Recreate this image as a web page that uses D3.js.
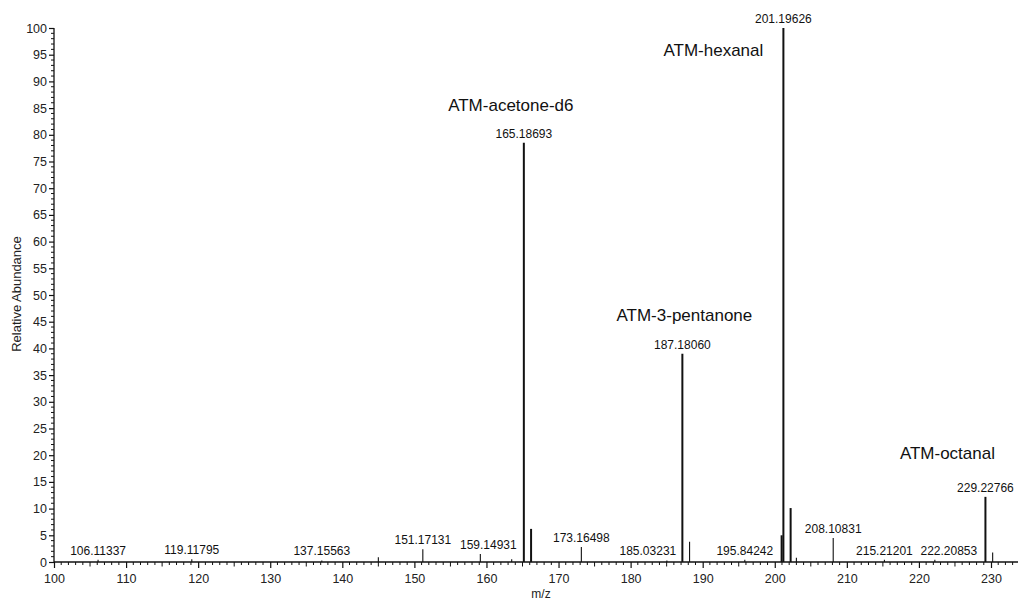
<!DOCTYPE html>
<html>
<head>
<meta charset="utf-8">
<script src="https://cdn.jsdelivr.net/npm/d3@7"></script>
<style>
  html, body { margin: 0; padding: 0; background: #fff; }
  svg { display: block; font-family: "Liberation Sans", Arial, sans-serif; }
</style>
</head>
<body>
<svg id="chart" width="1018" height="604"></svg>
<script>
// ---- data ----
const peakMz    = [106.11337, 119.11795, 137.15563, 145.0, 151.17131, 159.14931, 163.5, 165.18693, 166.19, 173.16498, 185.03231, 187.18060, 188.18, 195.84242, 200.95, 201.19626, 202.20, 203.0, 208.10831, 215.21201, 222.20853, 229.22766, 230.23];
const peakAbund = [0.4, 0.5, 0.3, 0.9, 2.4, 1.5, 0.5, 78.5, 6.2, 2.8, 0.3, 39.0, 3.8, 0.4, 5.0, 100, 10.1, 0.8, 4.5, 0.4, 0.4, 12.2, 1.8];
const peakLabel = ["106.11337", "119.11795", "137.15563", "", "151.17131", "159.14931", "", "165.18693", "", "173.16498", "185.03231", "187.18060", "", "195.84242", "", "201.19626", "", "", "208.10831", "215.21201", "222.20853", "229.22766", ""];
const compoundNames = ["ATM-acetone-d6", "ATM-3-pentanone", "ATM-hexanal", "ATM-octanal"];
const compoundMz    = [165.18693, 187.18060, 201.19626, 229.22766];
const compoundAbund = [78.5, 39.0, 100, 12.2];
const xTickValues = [100, 110, 120, 130, 140, 150, 160, 170, 180, 190, 200, 210, 220, 230];
const yTickValues = [0, 5, 10, 15, 20, 25, 30, 35, 40, 45, 50, 55, 60, 65, 70, 75, 80, 85, 90, 95, 100];
const xTitle = "m/z";
const yTitle = "Relative Abundance";

// ---- layout ----
const svg = d3.select("#chart");
const x0 = 54, yBase = 562, yTop = 28;
const x = d3.scaleLinear().domain([100, 230]).range([x0, 991]);
const xMaxDomain = x.invert(1018);
const y = d3.scaleLinear().domain([0, 100]).range([yBase, yTop]);
const ink = "#111";

// label offsets (layout only)
const labelDx = {"185.03231": -19, "222.20853": 14, "159.14931": 8};
const compoundOffset = [[-13, -38], [2, -39], [-70, 22], [-38, -44]];

// ---- axes ----
const xAxis = d3.axisBottom(x).tickValues(xTickValues).tickSize(6).tickPadding(6).tickFormat(d3.format("d"));
const gx = svg.append("g").attr("transform", `translate(0,${yBase})`).call(xAxis);
gx.select(".domain").remove();
gx.append("line").attr("x1", x0).attr("x2", 1018).attr("y1", 0).attr("y2", 0).attr("stroke", ink).attr("stroke-width", 1.3);
const minorX = d3.range(100, Math.floor(xMaxDomain) + 1, 1).filter(v => v % 10 !== 0);
gx.selectAll(".minor").data(minorX).enter().append("line")
  .attr("x1", d => x(d)).attr("x2", d => x(d))
  .attr("y1", 0).attr("y2", d => d % 5 === 0 ? 4.5 : 3)
  .attr("stroke", ink).attr("stroke-width", 1);
gx.selectAll(".tick line").attr("stroke", ink).attr("stroke-width", 1.2);
gx.selectAll(".tick text").attr("fill", "#222").style("font-size", "12.5px");

const yAxis = d3.axisLeft(y).tickValues(yTickValues).tickSize(5).tickPadding(2).tickFormat(d3.format("d"));
const gy = svg.append("g").attr("transform", `translate(${x0},0)`).call(yAxis);
gy.select(".domain").remove();
gy.append("line").attr("x1", 0).attr("x2", 0).attr("y1", yTop).attr("y2", yBase).attr("stroke", ink).attr("stroke-width", 1.3);
const minorY = d3.range(0, 101, 1).filter(v => v % 5 !== 0);
gy.selectAll(".minor").data(minorY).enter().append("line")
  .attr("x1", 0).attr("x2", -3)
  .attr("y1", d => y(d)).attr("y2", d => y(d))
  .attr("stroke", ink).attr("stroke-width", 1);
gy.selectAll(".tick line").attr("stroke", ink).attr("stroke-width", 1.2);
gy.selectAll(".tick text").attr("fill", "#222").style("font-size", "12.5px");

svg.append("text").attr("x", 541).attr("y", 598).attr("text-anchor", "middle")
  .style("font-size", "12px").attr("fill", "#222").text(xTitle);
svg.append("text").attr("transform", "translate(21,294) rotate(-90)").attr("text-anchor", "middle")
  .style("font-size", "13px").attr("fill", "#222").text(yTitle);

// ---- peaks ----
const peaks = peakMz.map((m, i) => ({m, a: peakAbund[i], label: peakLabel[i]}));
svg.append("g").selectAll("line").data(peaks).enter().append("line")
  .attr("x1", d => x(d.m)).attr("x2", d => x(d.m))
  .attr("y1", y(0)).attr("y2", d => y(d.a))
  .attr("stroke", ink)
  .attr("stroke-width", d => d.a >= 5 ? 2 : 1.1);

svg.append("g").selectAll("text").data(peaks.filter(d => d.label)).enter().append("text")
  .attr("x", d => x(d.m) + (labelDx[d.label] || 0))
  .attr("y", d => y(d.a) - 5)
  .attr("text-anchor", "middle")
  .style("font-size", "12px").attr("fill", "#111")
  .text(d => d.label);

svg.append("g").selectAll("text").data(compoundNames).enter().append("text")
  .attr("x", (d, i) => x(compoundMz[i]) + compoundOffset[i][0])
  .attr("y", (d, i) => y(compoundAbund[i]) + compoundOffset[i][1] + 6)
  .attr("text-anchor", "middle")
  .style("font-size", "17px").attr("fill", "#111")
  .text(d => d);
</script>
</body>
</html>
